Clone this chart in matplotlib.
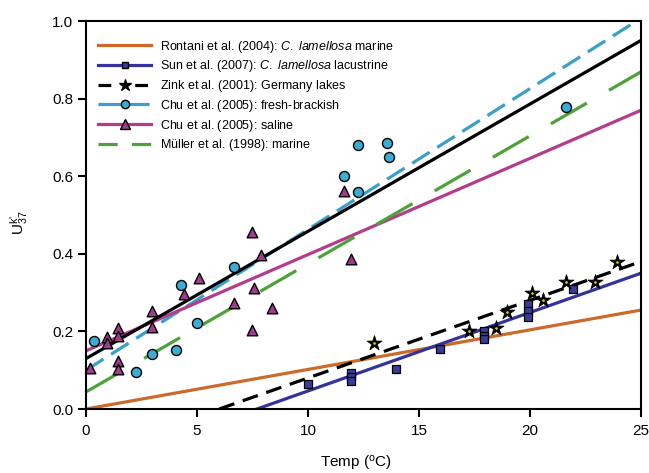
import matplotlib
matplotlib.use("Agg")
import matplotlib.pyplot as plt

plt.rcParams['font.family'] = ['Liberation Sans', 'DejaVu Sans']
plt.rcParams['mathtext.fontset'] = 'custom'
plt.rcParams['mathtext.rm'] = 'Liberation Sans'
plt.rcParams['mathtext.it'] = 'Liberation Sans:italic'

# regression lines: (x start, x end) -> (y start, y end)
rontani_x = [0, 25]
rontani_y = [0.0, 0.255]
sun_x = [7.7, 25]
sun_y = [0.0, 0.35]
zink_x = [6.0, 25]
zink_y = [0.0, 0.38]
chu_fb_x = [0, 24.8]
chu_fb_y = [0.10, 1.0]
chu_sal_x = [0, 25]
chu_sal_y = [0.15, 0.77]
muller_x = [0, 25]
muller_y = [0.044, 0.869]
all_x = [0, 25]
all_y = [0.13, 0.95]

# measured points
sun_pts_x = [9.98, 11.94, 11.94, 11.94, 13.96, 15.96, 17.94, 17.94, 17.94,
             19.92, 19.92, 19.92, 21.92]
sun_pts_y = [0.064, 0.092, 0.082, 0.071, 0.102, 0.155, 0.201, 0.188, 0.18,
             0.27, 0.253, 0.236, 0.309]
zink_pts_x = [12.97, 17.25, 18.47, 18.95, 20.07, 20.57, 21.62, 22.93, 23.93]
zink_pts_y = [0.169, 0.202, 0.208, 0.251, 0.30, 0.281, 0.328, 0.328, 0.38]
chu_fb_pts_x = [0.36, 2.24, 2.96, 4.05, 4.98, 4.26, 6.68, 11.64, 12.23,
                12.27, 13.54, 13.65, 21.6]
chu_fb_pts_y = [0.175, 0.096, 0.143, 0.152, 0.221, 0.32, 0.366, 0.60, 0.558,
                0.68, 0.686, 0.65, 0.778]
chu_sal_pts_x = [0.16, 0.96, 0.96, 1.46, 1.46, 1.46, 1.46, 2.99, 2.99, 4.43,
                 5.09, 6.67, 7.46, 7.88, 7.58, 7.46, 8.36, 11.64, 11.92]
chu_sal_pts_y = [0.105, 0.186, 0.171, 0.21, 0.188, 0.125, 0.102, 0.253, 0.212,
                 0.296, 0.338, 0.274, 0.455, 0.397, 0.313, 0.204, 0.261, 0.561,
                 0.386]

labels = [
    'Rontani et al. (2004): $\\mathit{C.\\ lamellosa}$ marine',
    'Sun et al. (2007): $\\mathit{C.\\ lamellosa}$ lacustrine',
    'Zink et al. (2001): Germany lakes',
    'Chu et al. (2005): fresh-brackish',
    'Chu et al. (2005): saline',
    'Müller et al. (1998): marine',
]


def as_math(s):
    # plain parts go through \text so every legend row has the same height
    parts = s.split('$')
    out = ''
    for i, p in enumerate(parts):
        if i % 2 == 0:
            if p:
                out += '$\\text{' + p + '}$'
        else:
            out += '$' + p + '$'
    return out


orange = '#cc6a2a'
navy = '#333399'
cyan = '#3a9fc9'
magenta = '#b43c8c'
green = '#4da23a'

fig = plt.figure(figsize=(6.49, 4.73), dpi=100)
ax = fig.add_axes([0.1325, 0.1353, 0.8552, 0.8203])

lw = 2.3
ax.plot(rontani_x, rontani_y, color=orange, lw=lw)
ax.plot(sun_x, sun_y, color=navy, lw=lw)
ax.plot(zink_x, zink_y, color='black', lw=lw, dashes=(5, 2.8))
ax.plot(chu_fb_x, chu_fb_y, color=cyan, lw=lw, dashes=(6.5, 2.8))
ax.plot(chu_sal_x, chu_sal_y, color=magenta, lw=lw)
ax.plot(muller_x, muller_y, color=green, lw=lw, dashes=(13, 8))
ax.plot(all_x, all_y, color='black', lw=lw)

ax.scatter(sun_pts_x, sun_pts_y, marker='s', s=30, c='#3b3b9a',
           edgecolors='black', linewidths=0.9, zorder=4)
ax.scatter(zink_pts_x, zink_pts_y, marker='*', s=130, c='black',
           edgecolors='black', linewidths=0.5, zorder=4)
ax.scatter(zink_pts_x, zink_pts_y, marker='o', s=0.8, c='#d8d800',
           zorder=5)
ax.scatter(chu_fb_pts_x, chu_fb_pts_y, marker='o', s=52, c='#3aaed2',
           edgecolors='black', linewidths=1.0, zorder=4)
ax.scatter(chu_sal_pts_x, chu_sal_pts_y, marker='^', s=58, c='#a03c8c',
           edgecolors='black', linewidths=1.0, zorder=4)

# legend proxies
h = [
    plt.Line2D([], [], color=orange, lw=lw),
    plt.Line2D([], [], color=navy, lw=lw, marker='s', ms=5,
               mfc='#3b3b9a', mec='black'),
    plt.Line2D([], [], color='black', lw=lw, dashes=(4, 7.5), marker='*',
               ms=9, mfc='black', mec='black'),
    plt.Line2D([], [], color=cyan, lw=lw, dashes=(7, 2), marker='o', ms=6,
               mfc='#3aaed2', mec='black'),
    plt.Line2D([], [], color=magenta, lw=lw, marker='^', ms=7,
               mfc='#a03c8c', mec='black'),
    plt.Line2D([], [], color=green, lw=lw, dashes=(6, 4.5)),
]
ax.legend(h, [as_math(s) for s in labels], loc='upper left', frameon=False,
          fontsize=9, handlelength=4.2, handletextpad=0.7, labelspacing=0.3,
          bbox_to_anchor=(0.0, 0.987), borderaxespad=0.6)

ax.set_xlim(0, 25)
ax.set_ylim(0, 1.0)
ax.set_xticks([0, 5, 10, 15, 20, 25])
ax.set_yticks([0.0, 0.2, 0.4, 0.6, 0.8, 1.0])
ax.set_yticklabels(['0.0', '0.2', '0.4', '0.6', '0.8', '1.0'])
ax.tick_params(direction='out', length=6, width=1.5, labelsize=11)
ax.tick_params(axis='x', pad=4.5)
ax.tick_params(axis='y', pad=3)
for s in ax.spines.values():
    s.set_linewidth(1.5)
ax.set_xlabel('Temp ($^{\\text{o}}$C)', fontsize=11)
ax.xaxis.set_label_coords(0.486, -0.115)
ax.set_ylabel("$\\text{U}^{\\text{k'}}_{\\text{37}}$", fontsize=11)
ax.yaxis.set_label_coords(-0.10, 0.479)

fig.savefig('out.png', dpi=100)
